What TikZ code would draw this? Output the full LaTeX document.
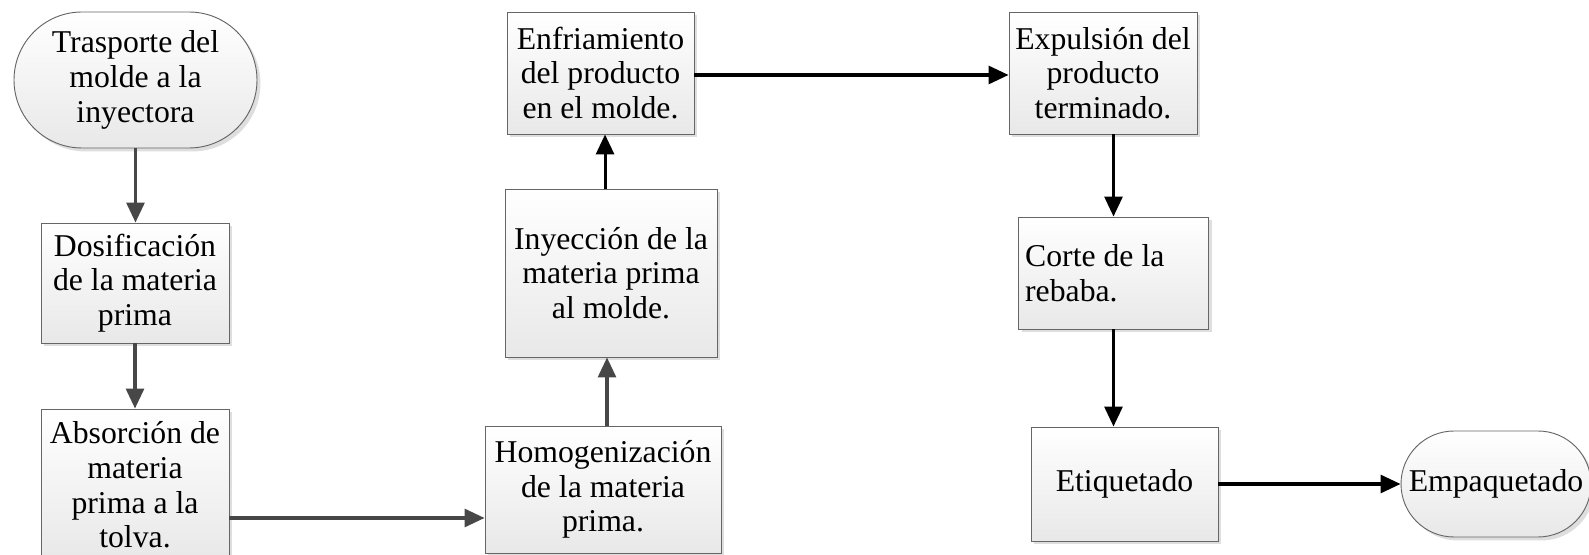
\documentclass[tikz,border=0pt]{standalone}
\usepackage{fontspec}
\setmainfont{Liberation Serif}
\usetikzlibrary{arrows.meta,shadows,calc}
\begin{document}
\begin{tikzpicture}[x=0.75pt,y=-0.75pt,
  font=\fontsize{23.8}{26}\selectfont,
  box/.style={draw=black!60, line width=0.7pt, top color=white, bottom color=black!9,
    general shadow={fill=black!13, shadow xshift=2.6pt, shadow yshift=-2.6pt},
    align=center, inner sep=2pt},
  term/.style={box, rounded corners=#1},
  arrk/.style={line width=2.3pt, draw=black, -{Triangle[length=15pt,width=13.5pt]}},
  arrg/.style={arrk, draw=black!72}]
\useasboundingbox (0,0) rectangle (1589,555);
\clip (0,0) rectangle (1589,555);

\node[term=51pt, minimum width=182.25pt, minimum height=102pt] (tras) at (135.5,80)
  {Trasporte del\\molde a la\\inyectora};
\node[box, minimum width=141pt, minimum height=90pt] (dosi) at (135,283)
  {Dosificación\\de la materia\\prima};
\node[box, minimum width=141pt, minimum height=114pt] (abso) at (135,485)
  {Absorción de\\materia\\prima a la\\tolva.};
\node[box, minimum width=177pt, minimum height=95.25pt] (homo) at (603,489.5)
  {Homogenización\\de la materia\\prima.};
\node[box, minimum width=159pt, minimum height=126pt] (inye) at (611,273)
  {Inyección de la\\materia prima\\al molde.};
\node[box, minimum width=140.25pt, minimum height=91.5pt] (enfr) at (600.5,73)
  {Enfriamiento\\del producto\\en el molde.};
\node[box, minimum width=141pt, minimum height=91.5pt] (expu) at (1103,73)
  {Expulsión del\\producto\\terminado.};
\node[box, minimum width=142.5pt, minimum height=84pt, text width=132.5pt, align=flush left, inner xsep=5pt] (cort) at (1113.5,273)
  {Corte de la\\rebaba.};
\node[box, minimum width=140.25pt, minimum height=85.5pt] (etiq) at (1124.5,484)
  {Etiquetado};
\node[term=39.75pt, minimum width=142.5pt, minimum height=79.5pt] (empa) at (1496,484)
  {Empaquetado};

\draw[arrg] (tras.south) -- (tras.south |- dosi.north);
\draw[arrg] (dosi.south) -- (dosi.south |- abso.north);
\draw[arrg] ([yshift=-24.75pt]abso.east) -- ([yshift=-24.75pt]abso.east -| homo.west);
\draw[arrg] ([xshift=3pt]homo.north) -- ([xshift=3pt]homo.north |- inye.south);
\draw[arrk] ([xshift=3.4pt]enfr.south |- inye.north) -- ([xshift=3.4pt]enfr.south);
\draw[arrk] ([yshift=-1.5pt]enfr.east) -- ([yshift=-1.5pt]enfr.east -| expu.west);
\draw[arrk] (cort.north |- expu.south) -- (cort.north);
\draw[arrk] (cort.south) -- (cort.south |- etiq.north);
\draw[arrk] (etiq.east) -- (empa.west);
\end{tikzpicture}
\end{document}
